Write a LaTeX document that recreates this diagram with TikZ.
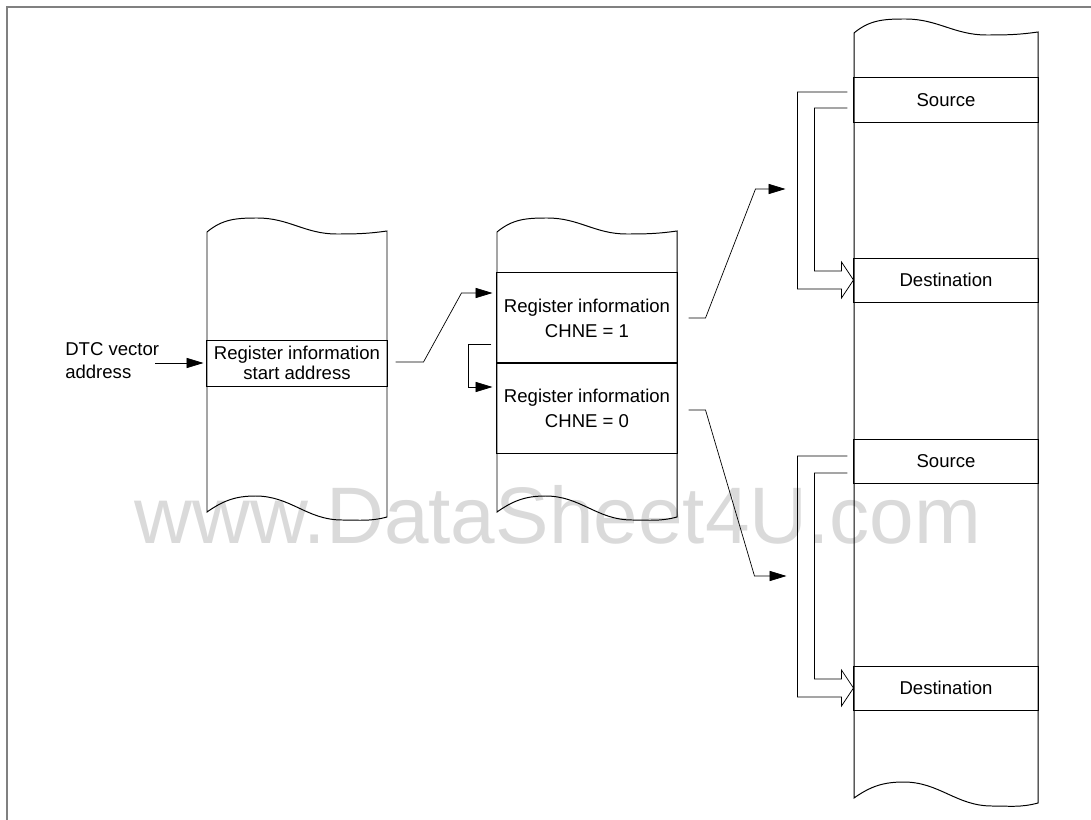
\documentclass[tikz,border=0pt]{standalone}
\usepackage{fontspec}
\setmainfont{Liberation Sans}
\usetikzlibrary{
  arrows.meta,
  calc,
  positioning
}
\definecolor{framegray}{RGB}{128,128,128}
\definecolor{markgray}{RGB}{218,218,218}

\begin{document}
\begin{tikzpicture}[
  x=0.025cm, y=-0.025cm,
  every node/.style={font=\fontsize{13.2}{17.8}\selectfont},
  reg/.style={draw, line width=0.7pt, minimum width=4.5cm, minimum height=2.25cm, align=center, inner sep=0pt},
  slot/.style={draw, line width=0.7pt, minimum width=4.6cm, minimum height=1.1cm, inner sep=0pt},
  link/.style={line width=0.5pt, -{Triangle[length=12pt,width=7.2pt]}},
  hollow/.style={line width=0.5pt}
]
  \useasboundingbox (0,0) rectangle (1091,820);
  % watermark and frame
  \node[font=\fontsize{57}{60}\selectfont, text=markgray, anchor=base] (mark) at (558,543) {www.DataSheet4U.com};
  \draw[framegray, line width=1.1pt] (7,820) -- (7,7) -- (1091,7);

  % memory areas with torn ends
  \foreach \xl/\xr/\yt/\yb in {207/387/232/512, 497/677/232/512, 854/1038/33/798} {
    \pgfmathsetmacro\crest{\xl+0.28*(\xr-\xl)}
    \pgfmathsetmacro\dip{\xl+0.72*(\xr-\xl)}
    \pgfmathsetmacro\lowdip{\xl+0.75*(\xr-\xl)}
    \pgfmathsetmacro\lowcrest{\xl+0.27*(\xr-\xl)}
    \draw[line width=0.7pt] (\xl,\yt) to[out=40,in=180] (\crest,\yt-14)
      to[out=0,in=180] (\dip,\yt+2) to[out=0,in=188] (\xr,\yt-1)
      -- (\xr,\yb+5) to[out=195,in=0] (\lowdip,\yb+8)
      to[out=180,in=0] (\lowcrest,\yb-16) to[out=180,in=35] (\xl,\yb) -- cycle;
  }

  % rows
  \node[reg, minimum height=1.15cm, font=\fontsize{13.2}{14.5}\selectfont] (start) at (297,363) {Register information\\start address};
  \node[reg] (chne1) at (587,318) {Register information\\CHNE = 1};
  \node[reg] (chne0) at (587,408) {Register information\\CHNE = 0};
  \node[slot] (src1) at (946,100) {Source};
  \node[slot] (dst1) at (946,280) {Destination};
  \node[slot] (src2) at (946,461) {Source};
  \node[slot] (dst2) at (946,688) {Destination};

  \node[align=left, anchor=west, inner sep=0pt, font=\fontsize{13.2}{16.4}\selectfont] (dtc) at (65,361) {DTC vector\\address};

  % pointers
  \draw[link] ($(dtc.east |- start.west)+(-4,0)$) -- ($(start.west)+(-3,0)$);
  \draw[link] ($(start.east)+(8,-1)$) -- ++(28,0) -- ($(chne1.west)+(-35,-25)$) -- ($(chne1.west)+(-4,-25)$);
  \draw[link] ($(chne1.south west)+(-5,-19)$) -| ($(chne0.west)+(-28,-21)$) -- ($(chne0.west)+(-4,-21)$);

  \coordinate (up) at ($(src1.west)+(-68,89)$);
  \coordinate (down) at ($(src2.west)+(-67,115)$);
  \draw[link] ($(chne1.east)+(11,0)$) -- ++(17,0) -- ($(up)+(-30,0)$) -- (up);
  \draw[link] ($(chne0.east)+(11,2)$) -- ++(17,0) -- ($(down)+(-32,0)$) -- (down);

  % transfers
  \foreach \s/\d/\sa/\sb in {src1/dst1/-8/8, src2/dst2/-5/12} {
    \draw[hollow] ($(\s.west)+(-6,\sa)$) -| ($(\d.west)+(-56,9)$) -- ++(44,0) -- ++(0,9)
      -- (\d.west) -- ($(\d.west)+(-12,-18)$) -- ++(0,9) -| ($(\s.west)+(-39,\sb)$) -- ++(33,0);
  }
\end{tikzpicture}
\end{document}
